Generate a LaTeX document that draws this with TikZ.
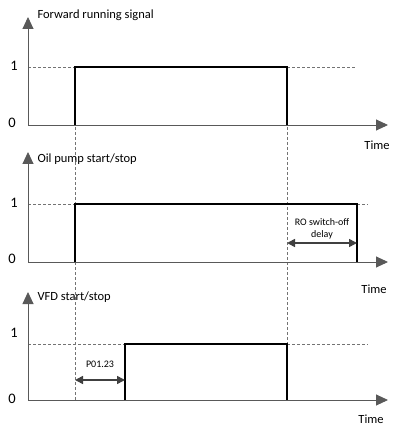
\documentclass[tikz,border=0pt]{standalone}
\usepackage{fontspec}
\setmainfont{Carlito}
\usepackage{tikz}
\usetikzlibrary{arrows.meta}
\usetikzlibrary{calc}

\begin{document}
\begin{tikzpicture}[x=1pt, y=-1pt,
    axis/.style={draw=black!65, line width=0.9pt, -{Triangle[length=12pt,width=11pt]}},
    pulse/.style={draw=black, line width=1.4pt},
    guide/.style={draw=black!55, line width=0.7pt, dash pattern=on 3pt off 2pt},
    delay/.style={draw=black!75, line width=1.6pt, {Triangle[length=8pt,width=8pt]}-{Triangle[length=8pt,width=8pt]}},
    level/.style={font=\fontsize{14.5}{16}\selectfont},
    title/.style={anchor=west, font=\fontsize{12.5}{14}\selectfont},
    small/.style={font=\fontsize{10}{11.5}\selectfont, align=center}]
    \useasboundingbox (0,0) rectangle (395,427);

    % Forward running signal
    \coordinate (O1) at (28,125);
    \coordinate (Y1) at (28,17);
    \coordinate (X1) at (388,125);
    \coordinate (H1) at (28,67);
    \coordinate (A1) at (75,125);
    \coordinate (B1) at (75,67);
    \coordinate (C1) at (287,67);
    \coordinate (D1) at (287,125);
    \coordinate (E1) at (355,67);

    % Oil pump start/stop
    \coordinate (O2) at (28,262);
    \coordinate (Y2) at (28,152);
    \coordinate (X2) at (388,262);
    \coordinate (H2) at (28,204);
    \coordinate (A2) at (75,262);
    \coordinate (B2) at (75,204);
    \coordinate (C2) at (357,204);
    \coordinate (D2) at (357,262);
    \coordinate (E2) at (368,204);

    % VFD start/stop
    \coordinate (O3) at (28,400);
    \coordinate (Y3) at (28,292);
    \coordinate (X3) at (388,400);
    \coordinate (H3) at (28,344);
    \coordinate (A3) at (125,400);
    \coordinate (B3) at (125,344);
    \coordinate (C3) at (287,344);
    \coordinate (D3) at (287,400);
    \coordinate (E3) at (368,344);

    % dashed guides
    \draw[guide] (H1) -- (B1);
    \draw[guide] (C1) -- (E1);
    \draw[guide] (H2) -- (B2);
    \draw[guide] (C2) -- (E2);
    \draw[guide] (H3) -- (B3);
    \draw[guide] (C3) -- (E3);
    \draw[guide] (B1) -- (B1 |- O3);
    \draw[guide] (C1) -- (C1 |- O3);

    % axes
    \draw[axis] (O1) -- (Y1);
    \draw[axis] (O1) -- (X1);
    \draw[axis] (O2) -- (Y2);
    \draw[axis] (O2) -- (X2);
    \draw[axis] (O3) -- (Y3);
    \draw[axis] (O3) -- (X3);

    % signals
    \draw[pulse] (A1) -- (B1) -- (C1) -- (D1);
    \draw[pulse] (A2) -- (B2) -- (C2) -- (D2);
    \draw[pulse] (A3) -- (B3) -- (C3) -- (D3);

    % delays
    \coordinate (R1) at (287,243);
    \coordinate (R2) at (357,243);
    \coordinate (P1) at (75,380);
    \coordinate (P2) at (125,380);
    \draw[delay] (R1) -- (R2);
    \draw[delay] (P1) -- (P2);
    \node[small] (ro) at (322,229) {RO switch-off\\delay};
    \node[small] (p0123) at (100,364) {P01.23};

    % labels
    \node[title] (t1) at (34,15) {Forward running signal};
    \node[title] (t2) at (34,159) {Oil pump start/stop};
    \node[title] (t3) at (34,297) {VFD start/stop};
    \node[level] (one1) at (14,66) {1};
    \node[level] (one2) at (14,203) {1};
    \node[level] (one3) at (14,333) {1};
    \node[level] (zero1) at (12,123) {0};
    \node[level] (zero2) at (12,259) {0};
    \node[level] (zero3) at (12,399) {0};
    \node[title, anchor=center] (time1) at (377,145) {Time};
    \node[title, anchor=center] (time2) at (374,289) {Time};
    \node[title, anchor=center] (time3) at (371,419) {Time};
\end{tikzpicture}
\end{document}
